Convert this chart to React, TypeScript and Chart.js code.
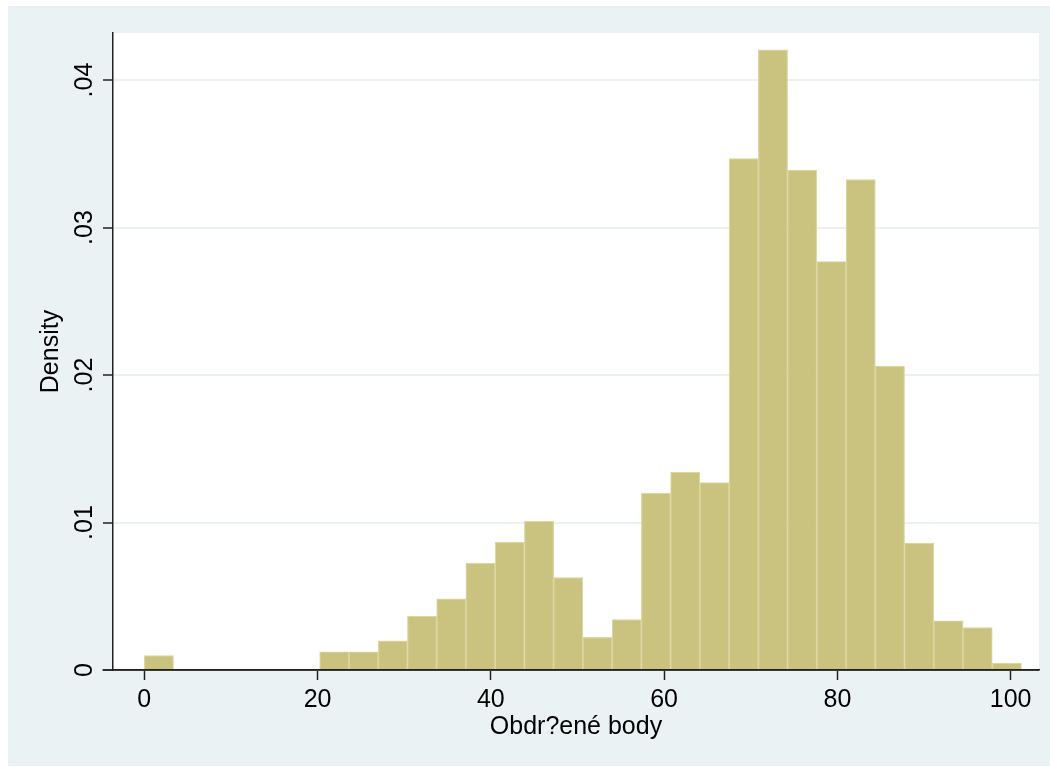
import React, { useEffect, useRef } from "react";
import { Chart, registerables } from "chart.js";

Chart.register(...registerables);

// Histogram bins: start and width (Stata-style histogram, 30 bins)
const BIN_START = 0;
const BIN_WIDTH = 3.375;
const densities = [
  0.00097, 0, 0, 0, 0, 0, 0.00124, 0.00124, 0.00197, 0.00365,
  0.00482, 0.00725, 0.00867, 0.0101, 0.00627, 0.00222, 0.00342, 0.012, 0.01342, 0.0127,
  0.03467, 0.04205, 0.0339, 0.0277, 0.03325, 0.0206, 0.0086, 0.00334, 0.00287, 0.00047,
];
const xTicks = [0, 20, 40, 60, 80, 100];
const yTicks = [0, 0.01, 0.02, 0.03, 0.04];
const yTickLabels = ["0", ".01", ".02", ".03", ".04"];
const xTitle = "Obdr?ené body";
const yTitle = "Density";

const FONT = '"Liberation Sans", Arial, Helvetica, sans-serif';
const AXIS_COLOR = "#222222";
const BG = "#eaf2f3";

const stataPlugin = {
  id: "stataLook",
  beforeDraw(chart: any) {
    const { ctx, chartArea: a } = chart;
    ctx.save();
    ctx.fillStyle = "#ffffff";
    ctx.fillRect(0, 0, chart.width, chart.height);
    ctx.fillStyle = BG;
    ctx.fillRect(8, 6, chart.width - 8, chart.height - 7);
    ctx.fillStyle = "#ffffff";
    ctx.fillRect(a.left, a.top, a.right - a.left, a.bottom - a.top);
    ctx.restore();
  },
  afterDraw(chart: any) {
    const { ctx, chartArea: a, scales } = chart;
    const y = scales.y;
    ctx.save();
    ctx.fillStyle = "#000000";
    ctx.font = `25px ${FONT}`;
    ctx.textAlign = "center";
    ctx.textBaseline = "alphabetic";
    yTicks.forEach((v, i) => {
      const py = y.getPixelForValue(v);
      ctx.save();
      ctx.translate(a.left - 21, py);
      ctx.rotate(-Math.PI / 2);
      ctx.fillText(yTickLabels[i], 0, 0);
      ctx.restore();
    });
    ctx.strokeStyle = AXIS_COLOR;
    ctx.lineWidth = 1.5;
    ctx.beginPath();
    ctx.moveTo(a.left - 10.5, a.bottom);
    ctx.lineTo(a.right, a.bottom);
    ctx.stroke();
    ctx.restore();
  },
};

export default function App() {
  const canvasRef = useRef<HTMLCanvasElement | null>(null);

  useEffect(() => {
    if (!canvasRef.current) return;
    const data = densities.map((v, i) => ({ x: BIN_START + BIN_WIDTH * (i + 0.5), y: v }));
    const chart = new Chart(canvasRef.current, {
      type: "bar",
      data: {
        datasets: [
          {
            label: yTitle,
            data: data as any,
            backgroundColor: "#cac27f",
            borderColor: "#dcd6a0",
            borderWidth: 1.2,
            barPercentage: 1,
            categoryPercentage: 1,
          },
        ],
      },
      options: {
        responsive: false,
        animation: false,
        devicePixelRatio: 1,
        layout: { padding: { top: 33, right: 11, left: 0, bottom: 0 } },
        plugins: {
          legend: { display: false },
          tooltip: { enabled: false },
        },
        scales: {
          x: {
            type: "linear",
            offset: false,
            min: -3.61,
            max: 103.27,
            afterBuildTicks: (scale: any) => {
              scale.ticks = xTicks.map((v) => ({ value: v }));
            },
            afterFit: (scale: any) => {
              scale.height = 97;
            },
            grid: {
              offset: false,
              drawOnChartArea: false,
              drawTicks: true,
              tickLength: 10,
              tickColor: AXIS_COLOR,
              tickWidth: 1.5,
            },
            border: { display: true, color: AXIS_COLOR, width: 1.5 },
            ticks: {
              color: "#000000",
              font: { family: FONT, size: 25 },
              padding: 5,
              maxRotation: 0,
              autoSkip: false,
            },
            title: {
              display: true,
              text: xTitle,
              color: "#000000",
              font: { family: FONT, size: 25 },
              padding: { top: 0, bottom: 25 },
            },
          },
          y: {
            type: "linear",
            min: 0,
            max: 0.04319,
            afterBuildTicks: (scale: any) => {
              scale.ticks = yTicks.map((v) => ({ value: v }));
            },
            afterFit: (scale: any) => {
              scale.width = 113;
            },
            grid: {
              color: BG,
              lineWidth: 2,
              drawTicks: true,
              tickLength: 10,
              tickColor: AXIS_COLOR,
              tickWidth: 1.5,
            },
            border: { display: true, color: AXIS_COLOR, width: 1.5 },
            ticks: { display: false },
            title: {
              display: true,
              text: yTitle,
              color: "#000000",
              font: { family: FONT, size: 25 },
              padding: { top: 36, bottom: 0 },
            },
          },
        },
      },
      plugins: [stataPlugin],
    });
    return () => chart.destroy();
  }, []);

  return (
    <div style={{ position: "fixed", left: 0, top: 0, width: 1050, height: 767, background: "#ffffff" }}>
      <canvas ref={canvasRef} width={1050} height={767} style={{ display: "block", width: 1050, height: 767 }} />
    </div>
  );
}
